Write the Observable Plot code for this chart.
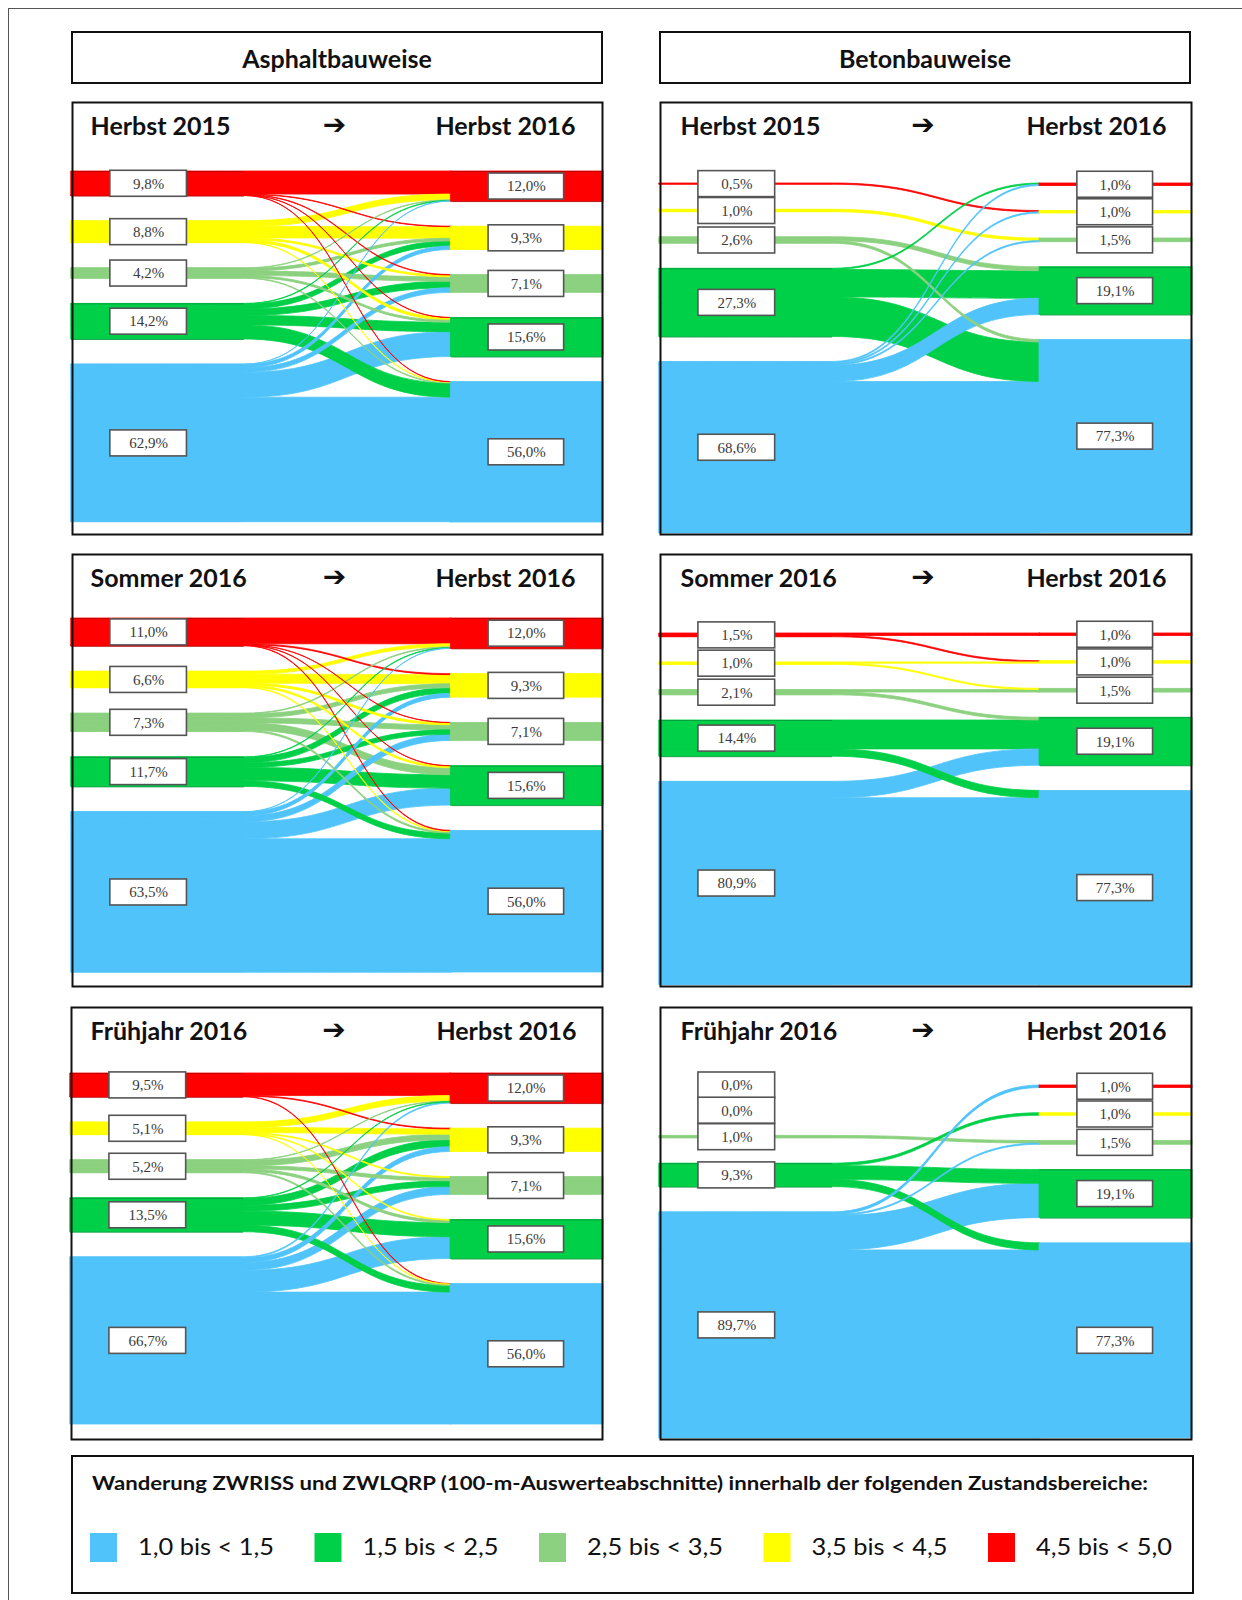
<!DOCTYPE html>
<html>
<head>
<meta charset="utf-8">
<script src="https://cdn.jsdelivr.net/npm/d3@7"></script>
<script src="https://cdn.jsdelivr.net/npm/@observablehq/plot@0.6"></script>
<style>
  body { margin: 0; background: #fff; }
  #page { position: relative; width: 1242px; height: 1600px; overflow: hidden; font-family: Lato, "Open Sans", sans-serif; background: #fff; }
  .outer { position: absolute; left: 8px; top: 8px; width: 1400px; height: 1800px; border: 1px solid #555; box-sizing: border-box; }
  .hdr { position: absolute; top: 31px; height: 53px; border: 2px solid #111; box-sizing: border-box; display: flex; align-items: center; justify-content: center; font-weight: bold; font-size: 25px; color: #111; }
  .panel { position: absolute; }
  .panel svg { display: block; }
</style>
</head>
<body>
<div id="page">
  <div class="outer"></div>
</div>
<script>
// ---------- DATA ----------
const classes = ["4,5 bis < 5,0", "3,5 bis < 4,5", "2,5 bis < 3,5", "1,5 bis < 2,5", "1,0 bis < 1,5"];
const classColors = ["#FF0000", "#FFFF00", "#8BD17F", "#00CF48", "#50C4FA"];
const classOutlines = ["#B00000", null, null, "#00963A", null];

const constructionTypes = ["Asphaltbauweise", "Betonbauweise"];
const periodsFrom = ["Herbst 2015", "Sommer 2016", "Frühjahr 2016"];
const periodTo = "Herbst 2016";
const legendTitle = "Wanderung ZWRISS und ZWLQRP (100-m-Auswerteabschnitte) innerhalb der folgenden Zustandsbereiche:";

// node shares (%), classes top to bottom: 4,5-5,0 / 3,5-4,5 / 2,5-3,5 / 1,5-2,5 / 1,0-1,5
const asphaltHerbst2016 = [12.0, 9.3, 7.1, 15.6, 56.0];
const betonHerbst2016 = [1.0, 1.0, 1.5, 19.1, 77.3];

const asphaltHerbst2015 = [9.8, 8.8, 4.2, 14.2, 62.9];
const asphaltSommer2016 = [11.0, 6.6, 7.3, 11.7, 63.5];
const asphaltFruehjahr2016 = [9.5, 5.1, 5.2, 13.5, 66.7];
const betonHerbst2015 = [0.5, 1.0, 2.6, 27.3, 68.6];
const betonSommer2016 = [1.5, 1.0, 2.1, 14.4, 80.9];
const betonFruehjahr2016 = [0.0, 0.0, 1.0, 9.3, 89.7];

// flows (% of sections): rows = class at start, columns = class in Herbst 2016
const flowsAsphaltHerbst2015 = [
  [9.2, 0.2, 0.2, 0.1, 0.1],
  [2.3, 4.6, 0.7, 1.0, 0.2],
  [0.2, 1.1, 1.8, 0.8, 0.3],
  [0.2, 2.0, 2.6, 3.8, 5.6],
  [0.1, 1.4, 1.8, 9.9, 49.7]
];
const flowsAsphaltSommer2016 = [
  [10.2, 0.4, 0.1, 0.1, 0.2],
  [1.2, 3.6, 0.8, 0.7, 0.3],
  [0.3, 1.6, 2.0, 2.8, 0.6],
  [0.2, 2.2, 1.8, 5.3, 2.2],
  [0.1, 1.5, 2.4, 6.7, 52.8]
];
const flowsAsphaltFruehjahr2016 = [
  [9.0, 0.3, 0.0, 0.0, 0.2],
  [2.2, 2.1, 0.4, 0.3, 0.1],
  [0.2, 2.2, 1.3, 1.0, 0.5],
  [0.2, 2.8, 2.3, 5.6, 2.6],
  [0.4, 1.9, 3.1, 8.7, 52.6]
];
const flowsBetonHerbst2015 = [
  [0.0, 0.5, 0.0, 0.0, 0.0],
  [0.0, 0.0, 1.0, 0.0, 0.0],
  [0.0, 0.0, 0.0, 1.6, 1.0],
  [0.5, 0.0, 0.0, 11.0, 15.8],
  [0.5, 0.5, 0.5, 6.5, 60.6]
];
const flowsBetonSommer2016 = [
  [1.0, 0.5, 0.0, 0.0, 0.0],
  [0.0, 0.5, 0.5, 0.0, 0.0],
  [0.0, 0.0, 1.0, 1.1, 0.0],
  [0.0, 0.0, 0.0, 11.5, 2.9],
  [0.0, 0.0, 0.0, 6.5, 74.4]
];
const flowsBetonFruehjahr2016 = [
  [0.0, 0.0, 0.0, 0.0, 0.0],
  [0.0, 0.0, 0.0, 0.0, 0.0],
  [0.0, 0.0, 1.0, 0.0, 0.0],
  [0.0, 1.0, 0.0, 5.5, 2.8],
  [1.0, 0.0, 0.5, 13.6, 74.6]
];

// ---------- LAYOUT ----------
const page = document.getElementById("page");
const fmt = v => v.toFixed(1).replace(".", ",") + "%";

// headers
[[71, 532], [659, 532]].forEach(([l, w], k) => {
  const d = document.createElement("div");
  d.className = "hdr";
  d.style.left = l + "px";
  d.style.width = w + "px";
  d.textContent = constructionTypes[k];
  page.appendChild(d);
});

const panels = [
  {from: periodsFrom[0], left: asphaltHerbst2015, right: asphaltHerbst2016, flows: flowsAsphaltHerbst2015, lay: {x: 71, y: 101, w: 532, h: 434, top: 70, bottom: 421, tl: 19, tr: 28}},
  {from: periodsFrom[0], left: betonHerbst2015, right: betonHerbst2016, flows: flowsBetonHerbst2015, lay: {x: 659, y: 101, w: 533, h: 434, top: 82, bottom: 432, tl: 21, tr: 26}},
  {from: periodsFrom[1], left: asphaltSommer2016, right: asphaltHerbst2016, flows: flowsAsphaltSommer2016, lay: {x: 71, y: 553, w: 532, h: 434, top: 65, bottom: 419, tl: 19, tr: 28}},
  {from: periodsFrom[1], left: betonSommer2016, right: betonHerbst2016, flows: flowsBetonSommer2016, lay: {x: 659, y: 553, w: 533, h: 434, top: 80, bottom: 432, tl: 21, tr: 26}},
  {from: periodsFrom[2], left: asphaltFruehjahr2016, right: asphaltHerbst2016, flows: flowsAsphaltFruehjahr2016, lay: {x: 70, y: 1006, w: 533, h: 434, top: 67, bottom: 418, tl: 20, tr: 27}},
  {from: periodsFrom[2], left: betonFruehjahr2016, right: betonHerbst2016, flows: flowsBetonFruehjahr2016, lay: {x: 659, y: 1006, w: 533, h: 434, top: 79, bottom: 432, tl: 21, tr: 26}}
];

const GAP = 10;               // gap between stacked nodes, in % units
const TOTAL = 100 + 4 * GAP;
const X0 = 0.325, X1 = 0.715; // end of left nodes / start of right nodes
const OV = 0.002;
const BOX_L = [0.073, 0.217], BOX_R = [0.784, 0.926];

function drawPanel(p) {
  const lay = p.lay;
  const pxPerUnit = (lay.bottom - lay.top) / TOTAL;
  const halfBox = 13 / pxPerUnit;
  const tops = vals => { let acc = 0; return vals.map(v => { const t = acc; acc += v + GAP; return t; }); };
  const lt = tops(p.left), rt = tops(p.right);

  const nodes = [];
  classes.forEach((c, i) => {
    nodes.push({side: "L", i, cls: c, x1: 0, x2: X0, y1: lt[i], v: p.left[i], b1: BOX_L[0], b2: BOX_L[1]});
    nodes.push({side: "R", i, cls: c, x1: X1 - OV, x2: 1, y1: rt[i], v: p.right[i], b1: BOX_R[0], b2: BOX_R[1]});
  });

  const links = [];
  const lo = lt.slice(), ro = rt.slice();
  p.flows.forEach((row, i) => row.forEach((v, j) => {
    if (v > 0) {
      links.push({id: i + "-" + j, cls: classes[i], v, a0: lo[i], a1: ro[j]});
      lo[i] += v; ro[j] += v;
    }
  }));
  links.sort((a, b) => b.v - a.v);
  // each link runs straight through its source node band, then bends to its target
  const pts = links.flatMap(l => [
    {id: l.id, cls: l.cls, x: 0, y1: l.a0, y2: l.a0 + l.v},
    {id: l.id, cls: l.cls, x: X0, y1: l.a0, y2: l.a0 + l.v},
    {id: l.id, cls: l.cls, x: X1, y1: l.a1, y2: l.a1 + l.v}
  ]);

  // thin dark outlines on top and bottom edges of the red and green nodes (>= 5%)
  const edges = nodes.filter(d => classOutlines[d.i] && d.v >= 5).flatMap(d => [
    {i: d.i, y: d.y1, x1: d.side === "L" ? 0 : X1, x2: d.side === "L" ? X0 : 1},
    {i: d.i, y: d.y1 + d.v, x1: d.side === "L" ? 0 : X1, x2: d.side === "L" ? X0 : 1}
  ]);

  const chart = Plot.plot({
    width: lay.w,
    height: lay.h,
    margin: 0,
    x: {domain: [0, 1], axis: null},
    y: {domain: [0, TOTAL], range: [lay.top, lay.bottom], axis: null},
    color: {domain: classes, range: classColors},
    style: {background: "white", overflow: "visible"},
    marks: [
      Plot.rect(nodes.filter(d => d.v > 0 && d.side === "L"), {x1: "x1", x2: "x2", y1: "y1", y2: d => d.y1 + d.v, fill: "cls"}),
      Plot.area(pts, {x1: "x", y1: "y1", y2: "y2", z: "id", fill: "cls", stroke: "cls", strokeWidth: 0.8, curve: "bump-x"}),
      Plot.rect(nodes.filter(d => d.v > 0 && d.side === "R"), {x1: "x1", x2: "x2", y1: "y1", y2: d => d.y1 + d.v, fill: "cls", stroke: "cls", strokeWidth: 0.8}),
      Plot.ruleY(edges.filter(e => e.i === 0), {y: "y", x1: "x1", x2: "x2", stroke: classOutlines[0], strokeWidth: 0.8}),
      Plot.ruleY(edges.filter(e => e.i === 3), {y: "y", x1: "x1", x2: "x2", stroke: classOutlines[3], strokeWidth: 0.8}),
      Plot.rect(nodes, {x1: "b1", x2: "b2", y1: d => d.y1 + d.v / 2 - halfBox, y2: d => d.y1 + d.v / 2 + halfBox, fill: "white", stroke: "#555", strokeWidth: 1.6}),
      Plot.text(nodes, {x: d => (d.b1 + d.b2) / 2, y: d => d.y1 + d.v / 2, text: d => fmt(d.v), fontFamily: "Liberation Serif, DejaVu Serif, serif", fontSize: 15, fill: "#3a3a3a"}),
      Plot.text([p.from], {text: d => d, frameAnchor: "top-left", dx: lay.tl, dy: 25, lineAnchor: "middle", textAnchor: "start", fontFamily: "Lato", fontWeight: "bold", fontSize: 25, fill: "#111"}),
      Plot.text([periodTo], {text: d => d, frameAnchor: "top-right", dx: -lay.tr, dy: 25, lineAnchor: "middle", textAnchor: "end", fontFamily: "Lato", fontWeight: "bold", fontSize: 25, fill: "#111"}),
      Plot.text(["➔"], {text: d => d, frameAnchor: "top", dx: -3, dy: 24, lineAnchor: "middle", fontFamily: "DejaVu Sans", fontWeight: "bold", fontSize: 28, fill: "#111"}),
      Plot.frame({stroke: "#111", strokeWidth: 2, inset: 1})
    ]
  });
  const div = document.createElement("div");
  div.className = "panel";
  div.style.left = lay.x + "px";
  div.style.top = lay.y + "px";
  div.style.width = lay.w + "px";
  div.appendChild(chart);
  page.appendChild(div);
}
panels.forEach(drawPanel);

// ---------- LEGEND ----------
const lw = 1123, lh = 139;
const svg = d3.create("svg").attr("width", lw).attr("height", lh)
  .style("position", "absolute").style("left", "71px").style("top", "1455px");
svg.append("rect").attr("x", 1).attr("y", 1).attr("width", lw - 2).attr("height", lh - 2)
  .attr("fill", "white").attr("stroke", "#111").attr("stroke-width", 2);
svg.append("text").attr("x", 21).attr("y", 35).text(legendTitle)
  .attr("font-family", "Lato").attr("font-weight", "bold").attr("font-size", 19).attr("fill", "#111")
  .attr("textLength", 1056).attr("lengthAdjust", "spacingAndGlyphs");
const legendOrder = [4, 3, 2, 1, 0];
legendOrder.forEach((ci, k) => {
  const x = 19 + k * 224.5;
  svg.append("rect").attr("x", x).attr("y", 78).attr("width", 27).attr("height", 29).attr("fill", classColors[ci]);
  svg.append("text").attr("x", x + 48).attr("y", 100).text(classes[ci])
    .attr("font-family", "Lato").attr("font-size", 23).attr("fill", "#111")
    .attr("textLength", 136).attr("lengthAdjust", "spacingAndGlyphs");
});
page.appendChild(svg.node());
</script>
</body>
</html>
